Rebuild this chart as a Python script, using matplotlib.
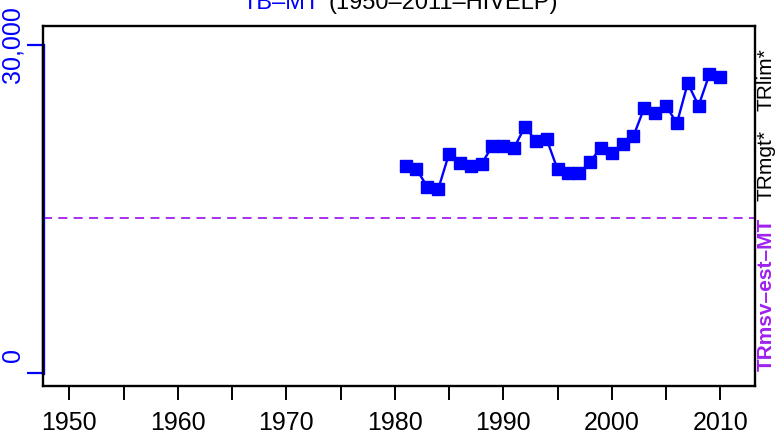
import numpy as np
import matplotlib
matplotlib.use("Agg")
import matplotlib.pyplot as plt
import matplotlib.transforms as mtransforms

plt.rcParams['font.family'] = ['Liberation Sans', 'DejaVu Sans']

years = list(range(1981, 2011))
tb = [18933, 18631, 17040, 16802, 20058, 19235, 18933, 19143, 20762, 20762,
      20607, 22527, 21220, 21375, 18631, 18265, 18265, 19326, 20607, 20149,
      20973, 21677, 24265, 23753, 24448, 22838, 26497, 24448, 27320, 27100]
trmsv = 14177
xticks_major = [1950, 1960, 1970, 1980, 1990, 2000, 2010]
xticks_minor = [1955, 1965, 1975, 1985, 1995, 2005]
yticks = [0, 30000]
ytick_labels = ["0", "30,000"]

W, H = 775, 445
fig = plt.figure(figsize=(W / 100, H / 100), dpi=100)
ax = fig.add_axes([42.7 / W, 1 - 386 / H, (755 - 42.7) / W, (386 - 26) / H])

ax.plot(years, tb, color='#0000FF', lw=1.7, marker='s', ms=8.2, mec='#0000FF', mfc='#0000FF')
ax.axhline(trmsv, color='#A020F0', lw=1.3, linestyle=(0, (5, 3.5)))

ax.set_xlim(1947.55, 2013.2)
ax.set_ylim(-1189, 31738)

for s in ax.spines.values():
    s.set_linewidth(1.7)
    s.set_color('black')

ax.set_xticks(xticks_major)
ax.set_xticks(xticks_minor, minor=True)
ax.tick_params(axis='x', which='both', length=10, width=1.4, direction='out', pad=8, labelsize=18)
ax.set_yticks(yticks)
ax.set_yticklabels([])
ax.tick_params(axis='y', length=11.5, width=1.6, color='#0000FF', direction='out')

# blue y axis line over the box edge
trans = mtransforms.blended_transform_factory(ax.transAxes, ax.transData)
ax.plot([0, 0], yticks, color='#0000FF', lw=2.4, transform=trans, clip_on=False)

# rotated y labels
ax.text(-30 / (755 - 42.7), 1646, ytick_labels[0], transform=trans, rotation=90,
        ha='center', va='center', color='#0000FF', fontsize=18)
ax.text(-30 / (755 - 42.7), 30000, ytick_labels[1], transform=trans, rotation=90,
        ha='center', va='center', color='#0000FF', fontsize=18)

# title
fig.text(320 / W, 1 - 9 / H, "TB–MT", color='#0000FF', fontsize=17, ha='right', va='baseline')
fig.text(328 / W, 1 - 9 / H, "(1950–2011–HIVELP)", color='black', fontsize=17, ha='left', va='baseline')

# right side labels
fig.text(766 / W, 1 - 218 / H, "TRmsv–est–MT", color='#A020F0', fontsize=15, fontweight='bold',
         rotation=90, ha='center', va='top')
fig.text(766 / W, 1 - 130 / H, "TRmgt*", color='black', fontsize=15, rotation=90, ha='center', va='top')
fig.text(766 / W, 1 - 48 / H, "TRlim*", color='black', fontsize=15, rotation=90, ha='center', va='top')

fig.savefig("out.png", dpi=100)
